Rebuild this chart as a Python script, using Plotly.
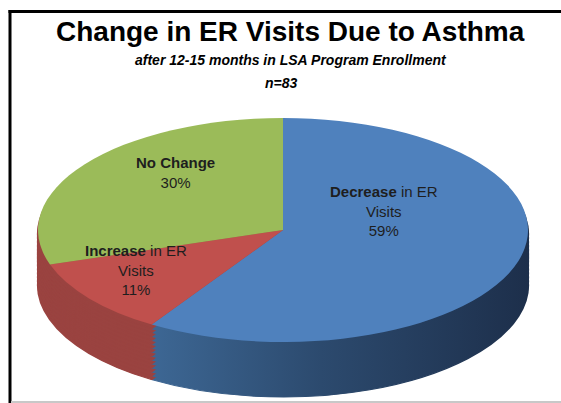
import plotly.graph_objects as go

# ---- data ----
categories = ["Decrease in ER Visits", "Increase in ER Visits", "No Change"]
values = [59, 11, 30]
label_bold = ["Decrease", "Increase", "No Change"]
label_rest = [" in ER<br>Visits", " in ER<br>Visits", ""]
title_text = "Change in ER Visits Due to Asthma"
subtitle_text = "after 12-15 months in LSA Program Enrollment"
n_text = "n=83"

top_colors = ["#4F81BD", "#C0504D", "#9BBB59"]
side_colors = ["#2A4769", "#9A4340", "#9A4340"]

W, H = 561, 403
CX, CY = 283, 230      # ellipse centre (px)
A, B = 245, 112        # semi axes (px)
DEPTH = 55
SX = A / B

def fx(px):
    return px / W

def fy(py):
    return 1 - py / H

fig = go.Figure()

N = 14
for k in range(N, -1, -1):
    off = DEPTH * k / N
    is_top = (k == 0)
    cols = top_colors if is_top else side_colors
    fig.add_trace(go.Pie(
        labels=categories, values=values, sort=False, direction="clockwise",
        rotation=0, textinfo="none", hoverinfo="skip", showlegend=False,
        marker=dict(colors=cols,
                    line=dict(width=0 if is_top else 1, color=cols)),
        domain=dict(x=[fx(CX - 150), fx(CX + 150)],
                    y=[fy(CY + off + B), fy(CY + off - B)]),
        name="top" if is_top else "side",
    ))

font_fam = "Liberation Sans, Arial, sans-serif"
txt_col = "#1E1E1E"

ann = []
# titles
ann.append(dict(x=fx(290), y=fy(32), text="<b>" + title_text + "</b>",
                font=dict(size=28, color="#000000", family=font_fam)))
ann.append(dict(x=fx(291), y=fy(60), text="<b><i>" + subtitle_text + "</i></b>",
                font=dict(size=14, color="#000000", family=font_fam)))
ann.append(dict(x=fx(281), y=fy(83), text="<b><i>" + n_text + "</i></b>",
                font=dict(size=14, color="#000000", family=font_fam)))

# slice labels
label_pos = [(384, 211), (136, 270), (175, 172)]
for i in range(3):
    t = "<b>" + label_bold[i] + "</b>" + label_rest[i] + "<br>" + f"{values[i]}%"
    ann.append(dict(x=fx(label_pos[i][0]), y=fy(label_pos[i][1]), text=t,
                    font=dict(size=15, color=txt_col, family=font_fam)))

for a in ann:
    a.update(xref="paper", yref="paper", showarrow=False, xanchor="center", yanchor="middle")

shapes = [
    dict(type="line", xref="paper", yref="paper", x0=fx(10), x1=fx(10), y0=fy(10), y1=fy(403),
         line=dict(color="#000000", width=3)),
    dict(type="line", xref="paper", yref="paper", x0=fx(8.5), x1=1, y0=fy(11.5), y1=fy(11.5),
         line=dict(color="#000000", width=3)),
    dict(type="line", xref="paper", yref="paper", x0=fx(11), x1=1, y0=fy(402), y1=fy(402),
         line=dict(color="#C8C8C8", width=2)),
]

fig.update_layout(
    width=W, height=H, margin=dict(l=0, r=0, t=0, b=0),
    paper_bgcolor="white", plot_bgcolor="white",
    annotations=ann, shapes=shapes, showlegend=False,
    font=dict(family=font_fam),
)

post = """
document.body.style.margin = '0';
document.body.style.overflow = 'hidden';
var gd = document.getElementById('{plot_id}');
var NS = 'http://www.w3.org/2000/svg';
function ensureGrad(){
  var svg = gd.querySelector('svg.main-svg');
  if (!svg || svg.querySelector('#sideGradBlue')) return;
  var defs = svg.querySelector('defs') || svg.insertBefore(document.createElementNS(NS, 'defs'), svg.firstChild);
  var g = document.createElementNS(NS, 'linearGradient');
  g.setAttribute('id', 'sideGradBlue');
  g.setAttribute('x1', '0'); g.setAttribute('x2', '1'); g.setAttribute('y1', '0'); g.setAttribute('y2', '0');
  [['0', '#3D6794'], ['0.45', '#2C4A6E'], ['1', '#1D2F4B']].forEach(function(s){
    var st = document.createElementNS(NS, 'stop');
    st.setAttribute('offset', s[0]); st.setAttribute('stop-color', s[1]);
    g.appendChild(st);
  });
  defs.appendChild(g);
}
function squash(){
  ensureGrad();
  var traces = gd.querySelectorAll('.pielayer .trace');
  var n = traces.length;
  traces.forEach(function(t, idx){
    var orig = t.getAttribute('data-orig-tf');
    if (orig === null) { orig = t.getAttribute('transform') || ''; t.setAttribute('data-orig-tf', orig); }
    t.setAttribute('transform', orig);
    var bb = t.getBBox();
    var cx = bb.x + bb.width / 2, cy = bb.y + bb.height / 2;
    t.setAttribute('transform', orig + ' translate(' + cx + ',' + cy + ') scale(%SX%,1) translate(' + (-cx) + ',' + (-cy) + ')');
    if (idx < n - 1) {
      var p = t.querySelector('.slice path.surface');
      if (p) { p.style.fill = 'url(#sideGradBlue)'; p.style.stroke = 'url(#sideGradBlue)'; }
    }
  });
}
squash();
gd.on('plotly_afterplot', squash);
""".replace("%SX%", f"{SX:.5f}")

fig.write_html("out.html", post_script=post, config={"displayModeBar": False})
